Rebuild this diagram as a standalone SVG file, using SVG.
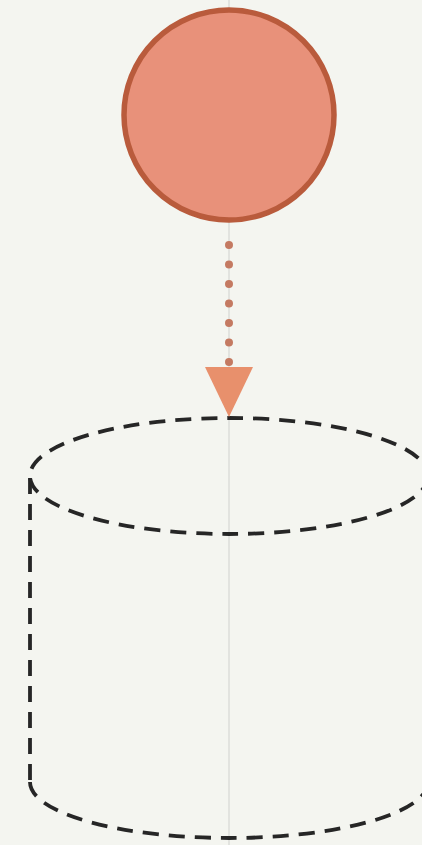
<svg xmlns="http://www.w3.org/2000/svg" width="422" height="845" viewBox="0 0 422 845">
<defs>
<style>
.dash{fill:none;stroke:#262626;stroke-width:3.8;stroke-dasharray:16 10;}
</style>
</defs>
<rect width="422" height="845" fill="#f4f5f0"/>
<line x1="229" y1="0" x2="229" y2="845" stroke="#dcdcda" stroke-width="1.5"/>
<g id="db">
<path class="dash" d="M30 478 L30 782"/>
<path class="dash" d="M30 782 A199 56 0 0 0 428 782"/>
<ellipse class="dash" cx="229" cy="476" rx="199" ry="58"/>
</g>
<g id="connectors">
<line x1="229" y1="245" x2="229" y2="364" stroke="#c47a62" stroke-width="8" stroke-linecap="round" stroke-dasharray="0 19.5"/>
<path d="M205 367 L253 367 L229 417 Z" fill="#e8906c"/>
</g>
<g id="ball">
<circle cx="229" cy="115" r="105" fill="#e8917a" stroke="#b95b3c" stroke-width="5.5"/>
</g>
</svg>
